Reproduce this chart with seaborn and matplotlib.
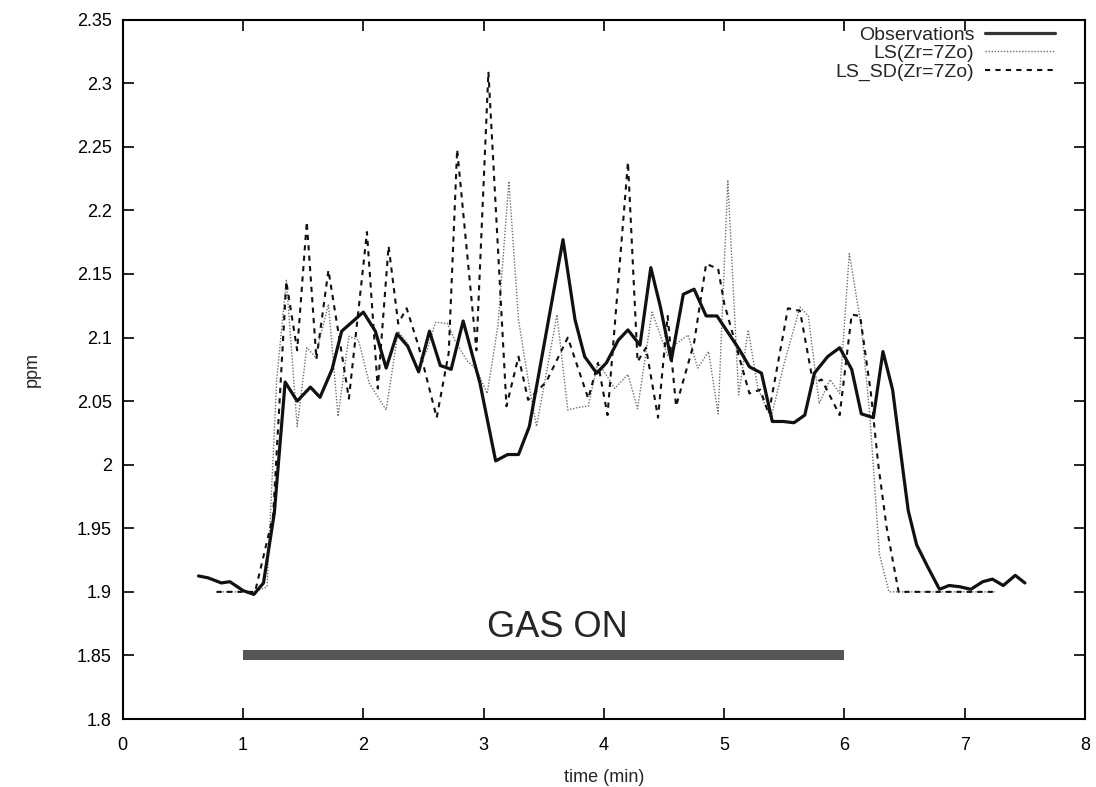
import numpy as np
import pandas as pd
import matplotlib
matplotlib.use("Agg")
import matplotlib.pyplot as plt
import seaborn as sns
from matplotlib.lines import Line2D

# ---------------- data ----------------
obs_t = [0.63, 0.71, 0.82, 0.89, 1.00, 1.09, 1.17, 1.26, 1.35, 1.45, 1.56, 1.64, 1.74, 1.82,
         2.00, 2.10, 2.19, 2.28, 2.37, 2.46, 2.55, 2.64, 2.73, 2.83, 2.97, 3.10, 3.20, 3.29,
         3.38, 3.66, 3.76, 3.84, 3.94, 4.02, 4.12, 4.20, 4.30, 4.39, 4.47, 4.56, 4.66, 4.75,
         4.85, 4.94, 5.13, 5.21, 5.31, 5.40, 5.49, 5.58, 5.67, 5.75, 5.86, 5.96, 6.06, 6.14,
         6.24, 6.32, 6.40, 6.49, 6.53, 6.60, 6.69, 6.79, 6.87, 6.96, 7.05, 7.15, 7.23, 7.32,
         7.42, 7.50]
obs_v = [1.9125, 1.911, 1.907, 1.908, 1.901, 1.898, 1.907, 1.962, 2.065, 2.050, 2.061, 2.053,
         2.075, 2.105, 2.120, 2.105, 2.076, 2.103, 2.093, 2.073, 2.105, 2.078, 2.075, 2.113,
         2.064, 2.003, 2.008, 2.008, 2.030, 2.177, 2.114, 2.085, 2.072, 2.080, 2.098, 2.106,
         2.094, 2.155, 2.124, 2.082, 2.134, 2.138, 2.117, 2.117, 2.090, 2.077, 2.072, 2.034,
         2.034, 2.033, 2.039, 2.072, 2.085, 2.092, 2.075, 2.040, 2.037, 2.089, 2.059, 1.993,
         1.964, 1.937, 1.920, 1.902, 1.905, 1.904, 1.902, 1.908, 1.910, 1.905, 1.913, 1.907]

ls_t = [0.78, 1.10, 1.20, 1.28, 1.36, 1.45, 1.53, 1.60, 1.71, 1.79, 1.88, 1.96, 2.05, 2.19,
        2.29, 2.37, 2.45, 2.53, 2.60, 2.70, 2.76, 2.86, 2.94, 3.03, 3.12, 3.21, 3.29, 3.38,
        3.44, 3.61, 3.70, 3.78, 3.87, 3.95, 4.09, 4.20, 4.28, 4.40, 4.53, 4.60, 4.70, 4.78,
        4.87, 4.95, 5.03, 5.12, 5.20, 5.28, 5.39, 5.50, 5.63, 5.70, 5.79, 5.88, 5.96, 6.04,
        6.14, 6.21, 6.29, 6.37, 7.25]
ls_v = [1.900, 1.900, 1.904, 2.067, 2.145, 2.030, 2.092, 2.085, 2.126, 2.038, 2.101, 2.098,
        2.064, 2.043, 2.105, 2.095, 2.075, 2.090, 2.112, 2.111, 2.098, 2.082, 2.075, 2.056,
        2.110, 2.223, 2.114, 2.061, 2.030, 2.118, 2.043, 2.045, 2.046, 2.081, 2.060, 2.071,
        2.044, 2.120, 2.086, 2.095, 2.102, 2.076, 2.089, 2.040, 2.224, 2.055, 2.106, 2.060,
        2.037, 2.080, 2.124, 2.117, 2.048, 2.067, 2.056, 2.166, 2.109, 2.040, 1.930, 1.900,
        1.900]

lssd_t = [0.78, 1.10, 1.25, 1.36, 1.45, 1.53, 1.61, 1.71, 1.88, 2.03, 2.12, 2.21, 2.29, 2.36,
          2.46, 2.61, 2.71, 2.78, 2.94, 3.04, 3.19, 3.29, 3.37, 3.52, 3.70, 3.87, 3.95, 4.03,
          4.20, 4.28, 4.35, 4.45, 4.53, 4.60, 4.75, 4.85, 4.95, 5.00, 5.10, 5.21, 5.30, 5.37,
          5.53, 5.63, 5.74, 5.81, 5.96, 6.06, 6.13, 6.22, 6.28, 6.35, 6.45, 7.25]
lssd_v = [1.900, 1.900, 1.960, 2.144, 2.090, 2.191, 2.083, 2.153, 2.052, 2.183, 2.060, 2.172,
          2.111, 2.123, 2.093, 2.037, 2.088, 2.248, 2.090, 2.309, 2.046, 2.085, 2.051, 2.065,
          2.100, 2.052, 2.080, 2.039, 2.238, 2.081, 2.092, 2.037, 2.117, 2.046, 2.096, 2.158,
          2.154, 2.127, 2.093, 2.056, 2.059, 2.040, 2.123, 2.121, 2.064, 2.067, 2.039, 2.118,
          2.117, 2.056, 2.001, 1.951, 1.900, 1.900]

gas_t = [1.0, 6.0]
gas_v = [1.85, 1.85]

x_ticks = [0, 1, 2, 3, 4, 5, 6, 7, 8]
y_ticks = [1.8, 1.85, 1.9, 1.95, 2.0, 2.05, 2.1, 2.15, 2.2, 2.25, 2.3, 2.35]
y_labels = ["1.8", "1.85", "1.9", "1.95", "2", "2.05", "2.1", "2.15", "2.2", "2.25", "2.3", "2.35"]

labels = ["Observations", "LS(Zr=7Zo)", "LS_SD(Zr=7Zo)"]

# ---------------- style ----------------
sns.set_style("ticks")
plt.rcParams['font.family'] = ['Liberation Sans', 'DejaVu Sans']

fig = plt.figure(figsize=(10.96, 7.87), dpi=100)
ax = fig.add_axes([0.112, 0.0864, 0.878, 0.8886])

obs_df = pd.DataFrame({"t": obs_t, "v": obs_v})
ls_df = pd.DataFrame({"t": ls_t, "v": ls_v})
lssd_df = pd.DataFrame({"t": lssd_t, "v": lssd_v})
gas_df = pd.DataFrame({"t": gas_t, "v": gas_v})

sns.lineplot(data=gas_df, x="t", y="v", ax=ax, color="#555555", linewidth=7.2,
             estimator=None, sort=False, solid_capstyle="butt")
sns.lineplot(data=ls_df, x="t", y="v", ax=ax, color="#707070", linewidth=1.0,
             estimator=None, sort=False, linestyle=(0, (1, 1.2)))
sns.lineplot(data=lssd_df, x="t", y="v", ax=ax, color="#111111", linewidth=1.5,
             estimator=None, sort=False, linestyle=(0, (2.5, 2.5)))
sns.lineplot(data=obs_df, x="t", y="v", ax=ax, color="#111111", linewidth=2.3,
             estimator=None, sort=False)

ax.text(3.61, 1.8716, "GAS ON", ha="center", va="center", fontsize=26,
        family=['Liberation Sans Narrow', 'Liberation Sans', 'DejaVu Sans'])

ax.set_xlim(0, 8)
ax.set_ylim(1.8, 2.35)
ax.set_xticks(x_ticks)
ax.set_xticklabels([str(x) for x in x_ticks])
ax.set_yticks(y_ticks)
ax.set_yticklabels(y_labels)
ax.tick_params(direction="in", length=8, width=1.2, top=True, right=True,
               labelsize=13, pad=8, colors="black")
ax.tick_params(axis="x", pad=13)
for sp in ax.spines.values():
    sp.set_visible(True)
    sp.set_linewidth(1.5)
    sp.set_color("black")

ax.set_xlabel("time (min)", fontsize=13, labelpad=11)
ax.set_ylabel("ppm", fontsize=13, labelpad=26)

handles = [
    Line2D([], [], color="#333333", linewidth=2.3),
    Line2D([], [], color="#707070", linewidth=1.0, linestyle=(0, (1, 1.2))),
    Line2D([], [], color="#111111", linewidth=1.5, linestyle=(0, (2.5, 2.5))),
]
ax.legend(handles, labels, loc="upper right", bbox_to_anchor=(0.972, 0.995),
          frameon=False, markerfirst=False, fontsize=14, handlelength=3.6,
          handletextpad=0.55, labelspacing=0.05, borderaxespad=0.0, borderpad=0.15)

fig.savefig("out.png", dpi=100)
